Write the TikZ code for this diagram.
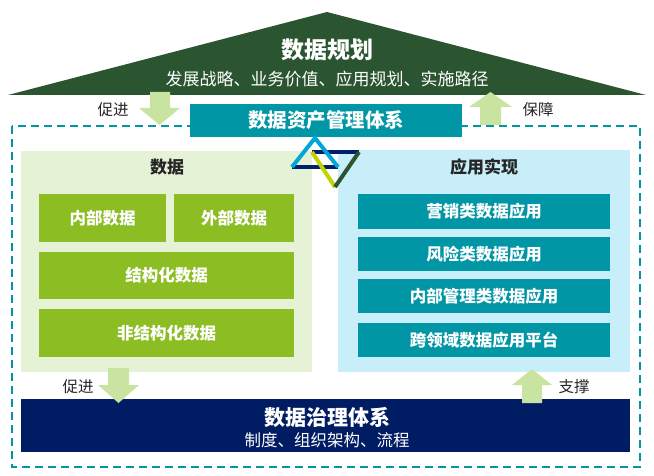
\documentclass[tikz,border=0pt]{standalone}
\usepackage{fontspec}
\setmainfont{Noto Sans CJK SC}
\usetikzlibrary{positioning}
\definecolor{roofgreen}{RGB}{43,85,48}
\definecolor{arrowgreen}{RGB}{200,228,160}
\definecolor{assetteal}{RGB}{0,150,166}
\definecolor{datapanel}{RGB}{229,242,214}
\definecolor{datagreen}{RGB}{140,189,35}
\definecolor{apppanel}{RGB}{200,238,250}
\definecolor{govnavy}{RGB}{0,28,98}
\definecolor{tricyan}{RGB}{0,166,214}
\definecolor{trinavy}{RGB}{0,32,110}
\definecolor{trilime}{RGB}{190,214,0}
\begin{document}
\begin{tikzpicture}[x=1pt,y=-1pt,
    box/.style={inner sep=0pt,text=white,font=\bfseries\fontsize{16.5}{16.5}\selectfont},
    gbox/.style={box,fill=datagreen},
    tbox/.style={box,fill=assetteal},
    panel/.style={inner sep=0pt},
    head/.style={font=\bfseries\fontsize{17}{17}\selectfont,text=black!85},
    lbl/.style={font=\fontsize{15.5}{15.5}\selectfont,text=black!85},
    arr/.style={fill=arrowgreen},
    tri/.style={line width=4pt,line cap=projecting}]
\useasboundingbox (0,0) rectangle (654,476);
% roof
\fill[roofgreen] (8,95) -- (327,12) -- (646,95) -- cycle;
\node[text=white,font=\bfseries\fontsize{23}{23}\selectfont](plan) at (327,50){数据规划};
\node[text=white,font=\fontsize{17}{17}\selectfont](plansub) at (327,79){发展战略、业务价值、应用规划、实施路径};
% frame
\draw[assetteal,line width=1.8pt,dash pattern=on 8pt off 5pt] (12,126) rectangle (640,467);
% arrows
\fill[arr] (150,92) -- (170,92) -- (170,108) -- (180,108) -- (159.5,125) -- (139,108) -- (150,108) -- cycle;
\fill[arr] (480,125) -- (501,125) -- (501,107) -- (512,107) -- (490.5,92) -- (469,107) -- (480,107) -- cycle;
\node[lbl](push1) at (113,110){促进};
\node[lbl](guard) at (538,110){保障};
\node[tbox,minimum width=272,minimum height=33,font=\bfseries\fontsize{19.5}{19.5}\selectfont](asset) at (326,120.5){数据资产管理体系};
% data panel
\node[panel,fill=datapanel,minimum width=291,minimum height=221](data) at (166.5,261.5){};
\node[head](datatitle) at (167,167){数据};
\node[gbox,minimum width=127,minimum height=48](inner) at (102.5,218){内部数据};
\node[gbox,minimum width=120,minimum height=48](outer) at (234,218){外部数据};
\node[gbox,minimum width=255,minimum height=47](struct) at (166.5,275.5){结构化数据};
\node[gbox,minimum width=255,minimum height=48](unstruct) at (166.5,333){非结构化数据};
% application panel
\node[panel,fill=apppanel,minimum width=292,minimum height=222](app) at (484,261){};
\node[head](apptitle) at (484,167){应用实现};
\node[tbox,minimum width=252,minimum height=35](market) at (484,211.5){营销类数据应用};
\node[tbox,minimum width=252,minimum height=34](risk) at (484,254){风险类数据应用};
\node[tbox,minimum width=252,minimum height=34](manage) at (484,296){内部管理类数据应用};
\node[tbox,minimum width=252,minimum height=34](cross) at (484,340){跨领域数据应用平台};
% triangles
\draw[tri,trinavy] (292,167) -- (338,167);
\draw[tri,trinavy] (312,152) -- (359,152);
\draw[tri,tricyan] (292,167) -- (315,138) -- (338,167);
\draw[tri,trilime] (312,152) -- (335,187);
\draw[tri,roofgreen] (359,152) -- (335,187);
% governance
\node[panel,fill=govnavy,minimum width=609,minimum height=53](gov) at (325.5,425.5){};
\fill[arr] (108,368) -- (129,368) -- (129,385) -- (139,385) -- (118.5,403) -- (98,385) -- (108,385) -- cycle;
\fill[arr] (522,403) -- (542,403) -- (542,385) -- (552,385) -- (532,369) -- (512,385) -- (522,385) -- cycle;
\node[lbl](push2) at (78,387){促进};
\node[lbl](support) at (574,387){支撑};
\node[text=white,font=\bfseries\fontsize{21}{21}\selectfont](govtitle) at (327,417){数据治理体系};
\node[text=white,font=\fontsize{16.5}{16.5}\selectfont](govsub) at (327,440){制度、组织架构、流程};
\end{tikzpicture}
\end{document}
